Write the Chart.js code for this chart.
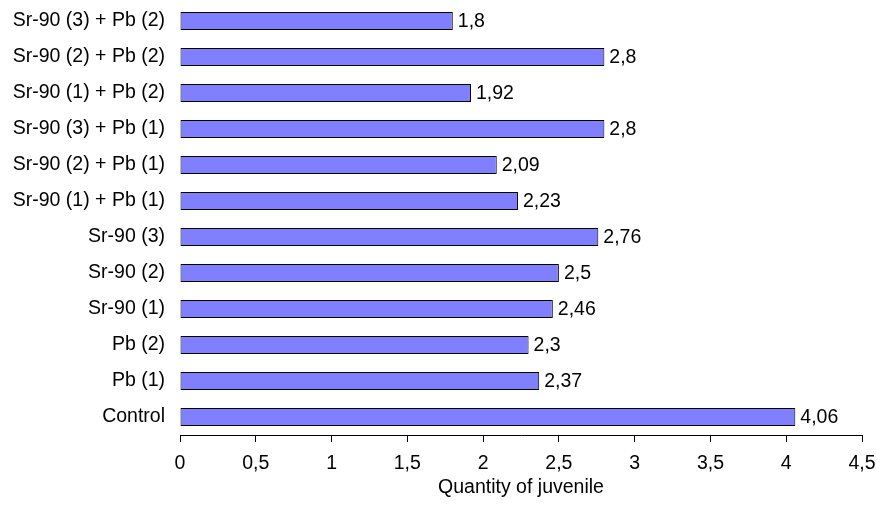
<!DOCTYPE html>
<html lang="en">
<head>
<meta charset="UTF-8">
<title>Quantity of juvenile</title>
<script src="https://cdnjs.cloudflare.com/ajax/libs/Chart.js/4.4.0/chart.umd.min.js"></script>
<style>
  body { margin: 0; background: #fff; }
  #wrap { width: 877px; height: 506px; }
</style>
</head>
<body>
<div id="wrap"><canvas id="myBarChart"></canvas></div>
<script>
// categories top to bottom
var categories = [
    'Sr-90 (3) + Pb (2)',
    'Sr-90 (2) + Pb (2)',
    'Sr-90 (1) + Pb (2)',
    'Sr-90 (3) + Pb (1)',
    'Sr-90 (2) + Pb (1)',
    'Sr-90 (1) + Pb (1)',
    'Sr-90 (3)',
    'Sr-90 (2)',
    'Sr-90 (1)',
    'Pb (2)',
    'Pb (1)',
    'Control'
];
var juveniles = [1.8, 2.8, 1.92, 2.8, 2.09, 2.23, 2.76, 2.5, 2.46, 2.3, 2.37, 4.06];
var xTicks = [0, 0.5, 1, 1.5, 2, 2.5, 3, 3.5, 4, 4.5];

function comma(v) {
    return String(v).replace('.', ',');
}

Chart.defaults.font.family = '"Liberation Sans", Arial, sans-serif';
Chart.defaults.font.size = 19.5;
Chart.defaults.color = '#000';

// values written at the end of each bar
var valueLabels = {
    id: 'valueLabels',
    afterDatasetsDraw: function (chart) {
        var ctx = chart.ctx;
        var meta = chart.getDatasetMeta(0);
        ctx.save();
        ctx.font = '19.5px "Liberation Sans", Arial, sans-serif';
        ctx.fillStyle = '#000';
        ctx.textAlign = 'left';
        ctx.textBaseline = 'middle';
        meta.data.forEach(function (bar, i) {
            ctx.fillText(comma(juveniles[i]), bar.x + 5, bar.y + 1);
        });
        ctx.restore();
    }
};

var ctx = document.getElementById('myBarChart');
var myChart = new Chart(ctx, {
    type: 'bar',
    data: {
        labels: categories,
        datasets: [{
            data: juveniles,
            backgroundColor: '#8080FF',
            borderColor: '#000',
            borderWidth: 1,
            borderSkipped: false,
            categoryPercentage: 1,
            barPercentage: 0.5
        }]
    },
    options: {
        indexAxis: 'y',
        responsive: true,
        maintainAspectRatio: false,
        animation: false,
        layout: { padding: { top: 3, right: 15, bottom: 7, left: 0 } },
        plugins: {
            legend: { display: false },
            tooltip: { enabled: false }
        },
        scales: {
            x: {
                min: 0,
                max: 4.5,
                afterBuildTicks: function (axis) {
                    axis.ticks = xTicks.map(function (v) { return { value: v }; });
                },
                afterFit: function (axis) {
                    axis.height = 64;
                    axis.paddingLeft = 0;
                    axis.paddingRight = 0;
                },
                ticks: {
                    padding: 10,
                    maxRotation: 0,
                    callback: function (v) { return comma(v); }
                },
                grid: { drawOnChartArea: false, drawTicks: true, tickLength: 7, color: '#000' },
                border: { display: true, color: '#000', width: 1 },
                title: {
                    display: true,
                    text: 'Quantity of juvenile',
                    padding: { top: 2, bottom: 0 }
                }
            },
            y: {
                afterFit: function (axis) {
                    axis.width = 180;
                    axis.paddingTop = 0;
                    axis.paddingBottom = 0;
                },
                ticks: { padding: 7 },
                grid: { display: false },
                border: { display: false }
            }
        }
    },
    plugins: [valueLabels]
});
</script>
</body>
</html>
